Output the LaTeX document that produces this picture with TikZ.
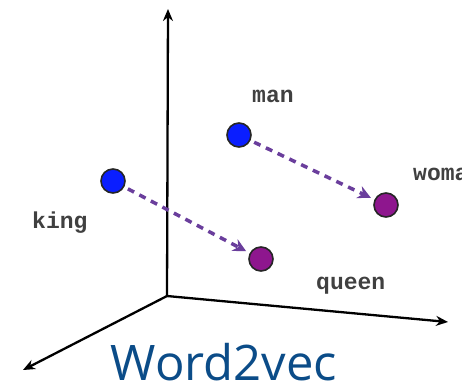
\documentclass[tikz,border=0pt]{standalone}
\usepackage{fontspec}
\setmainfont{Open Sans}
\newfontfamily\labfont{Liberation Mono}
\usetikzlibrary{arrows.meta}
\definecolor{dotblue}{HTML}{0A1EFF}
\definecolor{dotpurple}{HTML}{8E168E}
\definecolor{arrpurple}{HTML}{6A3E9C}
\definecolor{titleblue}{HTML}{0B4C88}
\tikzset{
  axis/.style={line width=2.3pt, -{Stealth[length=12pt,width=10pt]}},
  bluedot/.style={circle, draw=black!85, line width=1.6pt, fill=dotblue, minimum size=24pt, inner sep=0pt},
  purpledot/.style={circle, draw=black!85, line width=1.6pt, fill=dotpurple, minimum size=24pt, inner sep=0pt},
  vec/.style={arrpurple, line width=3.5pt, dash pattern=on 7pt off 6pt, -{Stealth[length=13pt,width=13pt]}, shorten <=4pt, shorten >=4pt},
  lab/.style={anchor=base west, inner sep=0pt, font=\labfont\bfseries\fontsize{23}{23}\selectfont, text=black!75},
}
\begin{document}
\begin{tikzpicture}[x=1pt,y=-1pt]
\useasboundingbox (0,0) rectangle (462,386);
\fill[white] (0,0) rectangle (462,386);
\coordinate (O) at (167,296);
\coordinate (Y) at (168,9);
\coordinate (X) at (448,322);
\coordinate (Z) at (23,370);
\draw[axis] (O) -- (Y);
\draw[axis] (O) -- (X);
\draw[axis] (O) -- (Z);
\node[bluedot] (man) at (239,135) {};
\node[bluedot] (king) at (113,181) {};
\node[purpledot] (queen) at (261,259) {};
\node[purpledot] (woman) at (386,205) {};
\draw[vec] (king) -- (queen);
\draw[vec] (man) -- (woman);
\node[lab] (tman) at (252,102) {man};
\node[lab] (tking) at (32,228) {king};
\node[lab] (tqueen) at (316,289) {queen};
\begin{scope}
\clip (0,0) rectangle (462,386);
\node[lab] (twoman) at (413,180) {woman};
\end{scope}
\node[anchor=base, inner sep=0pt, text=titleblue, font=\fontsize{49}{49}\selectfont] (title) at (224,380) {Word2vec};
\end{tikzpicture}
\end{document}
